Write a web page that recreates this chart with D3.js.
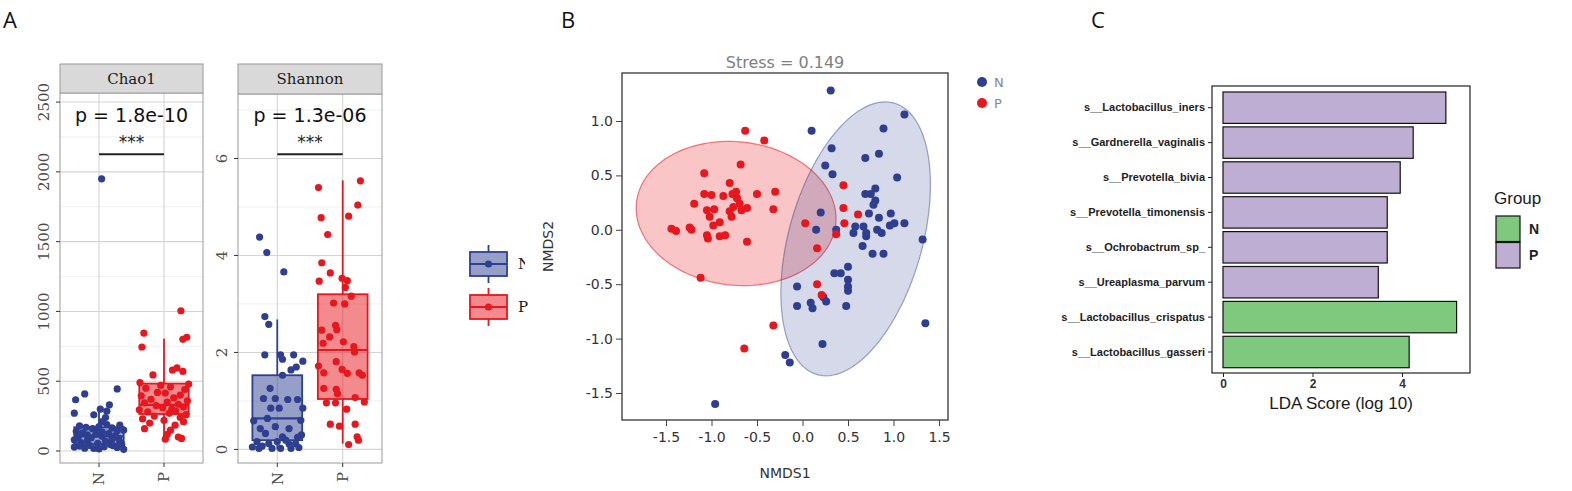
<!DOCTYPE html>
<html>
<head>
<meta charset="utf-8">
<script src="https://cdn.jsdelivr.net/npm/d3@7"></script>
<style>
  body { margin: 0; background: #fff; }
  svg { display: block; }
</style>
</head>
<body>
<svg id="fig" width="1572" height="491"></svg>
<script>
// ---------------------------//
//            DATA            //
// ---------------------------//

var groups = ["N", "P"];

// alpha diversity points: [value, jitter as fraction of category step]
var chaoN = [[1950,0.04],[445,0.28],[409,-0.22],[367,-0.36],[271,-0.38],[331,0.16],[300,0.02],[259,-0.08],
  [285,0.12],[240,0.10],[210,0.05],[180,-0.30],[170,-0.20],[160,-0.10],[175,0.00],[165,0.20],[185,0.32],
  [150,0.38],[140,-0.35],[130,-0.25],[120,-0.05],[125,0.15],[110,0.25],[100,-0.32],[95,-0.12],[105,0.05],
  [90,0.30],[80,-0.38],[75,-0.18],[70,0.10],[85,0.20],[60,-0.28],[55,-0.02],[50,0.35],[45,0.18],[40,-0.15],
  [35,-0.30],[30,0.08],[25,0.28],[20,-0.22],[15,0.00],[12,0.38],[28,-0.38],[65,0.32],[115,-0.18],
  [135,0.05],[155,-0.05],[190,0.12],[145,0.28],[38,0.22],[18,-0.08]];
var chaoP = [[1005,0.26],[845,-0.31],[815,0.35],[800,0.29],[745,-0.34],[595,0.20],[580,0.13],[570,0.29],
  [545,-0.17],[490,-0.37],[480,0.38],[470,-0.05],[460,0.10],[450,-0.28],[440,0.32],[420,-0.10],[415,0.02],
  [400,0.25],[395,-0.35],[380,0.15],[370,-0.20],[360,0.36],[350,0.05],[345,-0.30],[335,0.22],[325,-0.12],
  [315,0.30],[310,-0.02],[300,0.12],[295,-0.38],[285,0.18],[280,-0.25],[270,0.08],[260,0.34],[250,-0.15],
  [240,0.25],[230,-0.33],[220,0.00],[210,0.30],[200,-0.22],[185,0.17],[160,-0.30],[150,0.10],[120,0.05],
  [100,0.22],[85,0.02],[90,0.27]];
var shanN = [[4.38,-0.27],[4.06,-0.16],[3.66,0.10],[2.74,-0.19],[2.58,-0.13],[1.95,-0.19],[1.95,0.05],
  [1.86,0.08],[1.95,0.25],[1.82,0.39],[1.70,0.29],[1.64,0.21],[1.53,0.08],[1.26,-0.11],[1.05,-0.21],
  [1.05,-0.03],[1.03,0.16],[1.03,0.31],[0.85,-0.10],[0.85,0.03],[0.85,0.39],[0.59,-0.36],[0.64,-0.15],
  [0.60,0.36],[0.43,-0.26],[0.47,-0.03],[0.43,0.18],[0.33,-0.18],[0.26,0.08],[0.25,0.31],[0.30,0.37],
  [0.16,-0.31],[0.12,-0.13],[0.16,0.00],[0.11,0.18],[0.12,0.28],[0.02,-0.28],[0.02,-0.08],[0.02,0.05],
  [0.02,0.21],[0.04,0.33],[0.07,-0.23],[0.19,0.13],[0.05,-0.38]];
var shanP = [[5.40,-0.37],[5.54,0.27],[5.04,0.23],[4.78,-0.33],[4.81,0.09],[4.43,-0.23],[3.85,-0.32],
  [3.64,-0.19],[3.47,-0.36],[3.53,-0.01],[3.48,0.07],[3.34,0.04],[3.16,0.13],[3.02,-0.14],[3.00,0.03],
  [2.46,-0.32],[2.56,-0.11],[2.47,-0.09],[2.32,-0.20],[2.19,-0.30],[2.22,0.01],[2.12,0.17],[2.01,0.18],
  [1.72,-0.37],[1.58,-0.29],[1.81,-0.10],[1.65,-0.01],[1.57,0.07],[1.58,0.25],[1.53,0.30],[1.26,-0.29],
  [1.24,-0.10],[1.15,-0.08],[0.96,-0.25],[0.96,-0.11],[1.07,0.19],[0.98,0.33],[0.83,0.06],[0.52,-0.19],
  [0.48,-0.05],[0.52,0.19],[0.26,0.22],[0.19,0.24],[0.10,0.09]];

// box stats: [lower whisker, q1, median, q3, upper whisker]
var chaoBoxN = [10, 50, 105, 170, 315];
var chaoBoxP = [80, 265, 330, 483, 805];
var shanBoxN = [0, 0.19, 0.64, 1.53, 2.68];
var shanBoxP = [0.12, 1.04, 2.05, 3.20, 5.55];

var chaoTicks = [0, 500, 1000, 1500, 2000, 2500];
var shanTicks = [0, 2, 4, 6];
var pLabels = ["p = 1.8e-10", "p = 1.3e-06"];
var sigBarY = [2127, 6.09];

// NMDS coordinates [NMDS1, NMDS2]
var nmdsN = [[0.31,1.28],[0.10,0.91],[0.32,0.75],[1.12,1.06],[0.89,0.93],[0.69,0.66],[0.84,0.70],
  [0.25,0.59],[0.33,0.51],[1.04,0.48],[0.80,0.38],[0.69,0.33],[0.75,0.33],[0.80,0.27],[0.78,0.23],
  [0.20,0.16],[0.73,0.15],[0.84,0.11],[0.97,0.15],[1.12,0.06],[1.01,0.06],[0.96,0.04],[0.58,0.03],
  [0.67,0.03],[0.15,0.00],[0.37,0.00],[0.56,-0.03],[0.70,-0.03],[0.70,-0.06],[0.82,0.00],[0.87,-0.03],
  [0.66,-0.15],[0.77,-0.22],[0.89,-0.22],[1.32,-0.09],[0.50,-0.34],[0.35,-0.40],[0.42,-0.40],[0.50,-0.46],
  [0.50,-0.52],[0.50,-0.56],[-0.06,-0.52],[-0.06,-0.70],[0.09,-0.67],[0.11,-0.72],[0.23,-0.62],
  [0.26,-0.66],[0.48,-0.70],[1.35,-0.86],[0.22,-1.05],[-0.19,-1.15],[-0.14,-1.22],[-0.96,-1.60]];
var nmdsP = [[-0.63,0.91],[-0.42,0.82],[-0.68,0.60],[-1.08,0.52],[-0.80,0.43],[-1.08,0.33],[-1.00,0.32],
  [-0.87,0.31],[-0.77,0.33],[-0.50,0.33],[-0.30,0.35],[-1.19,0.24],[-0.72,0.29],[-0.69,0.24],[-0.76,0.21],
  [-0.61,0.20],[-0.32,0.19],[-1.05,0.18],[-0.97,0.19],[-1.02,0.12],[-0.78,0.12],[-0.91,0.07],[-0.98,0.04],
  [-1.44,0.01],[-1.39,-0.01],[-1.24,0.02],[-1.22,0.00],[-1.05,-0.05],[-1.04,-0.08],[-0.91,-0.06],
  [-0.85,-0.05],[-0.61,-0.11],[-1.12,-0.44],[-0.32,-0.88],[-0.64,-1.09],[0.03,0.06],[0.16,-0.17],
  [0.37,-0.04],[0.45,0.41],[0.45,0.20],[0.46,0.06],[0.61,0.14],[0.16,-0.50],[0.21,-0.60],[-0.73,0.35],
  [-0.67,0.18],[-0.80,0.17]];
// confidence ellipses: centre, semi-axes, rotation (degrees)
var ellipseN = {cx: 0.584, cy: -0.083, a: 1.32, b: 0.72, angle: 69};
var ellipseP = {cx: -0.73, cy: 0.15, a: 1.10, b: 0.66, angle: -4};
var nmdsTicks = [-1.5, -1.0, -0.5, 0.0, 0.5, 1.0, 1.5];
var stressLabel = "Stress = 0.149";

// LEfSe
var ldaTaxa = ["s__Lactobacillus_iners", "s__Gardnerella_vaginalis", "s__Prevotella_bivia",
  "s__Prevotella_timonensis", "s__Ochrobactrum_sp_", "s__Ureaplasma_parvum",
  "s__Lactobacillus_crispatus", "s__Lactobacillus_gasseri"];
var ldaScores = [4.98, 4.25, 3.96, 3.67, 3.67, 3.47, 5.22, 4.16];
var ldaGroup = ["P", "P", "P", "P", "P", "P", "N", "N"];
var ldaTicks = [0, 2, 4];

// ---------------------------//
//           SETUP            //
// ---------------------------//

var svg = d3.select("#fig");
var BLUE = "#2e3f91", RED = "#e8161d";
var colour = d3.scaleOrdinal().domain(groups).range([BLUE, RED]);
var SERIF = "DejaVu Serif", SANS = "DejaVu Sans", ARIAL = "Liberation Sans";
var fmt1 = function(d) { return d.toFixed(1); };

// panel letters
[["A", 10], ["C", 1098]].forEach(function(d) {
  svg.append("text").attr("x", d[1]).attr("y", 28).attr("text-anchor", "middle")
    .style("font-family", "Open Sans").style("font-size", "22px").style("fill", "#111").text(d[0]);
});

// ---------------------------//
//     PANEL A : ALPHA        //
// ---------------------------//

function alphaPanel(cfg) {
  var g = svg.append("g");
  var x = d3.scalePoint().domain(groups).range([cfg.left, cfg.right]).padding(0.6);
  var y = d3.scaleLinear().domain(cfg.domain).range([cfg.bottom, cfg.top]);
  var step = x.step(), bw = step * 0.76;

  g.append("rect").attr("x", cfg.left).attr("y", cfg.top)
    .attr("width", cfg.right - cfg.left).attr("height", cfg.bottom - cfg.top).attr("fill", "#fff");

  // minor grid
  var half = (cfg.ticks[1] - cfg.ticks[0]) / 2;
  var minor = cfg.ticks.map(function(t) { return t + half; })
    .filter(function(t) { return t < cfg.domain[1]; });
  g.selectAll(".minor").data(minor).enter().append("line")
    .attr("x1", cfg.left).attr("x2", cfg.right)
    .attr("y1", function(d) { return y(d); }).attr("y2", function(d) { return y(d); })
    .attr("stroke", "#ececec").attr("stroke-width", 0.8);
  g.selectAll(".major").data(cfg.ticks).enter().append("line")
    .attr("x1", cfg.left).attr("x2", cfg.right)
    .attr("y1", function(d) { return y(d); }).attr("y2", function(d) { return y(d); })
    .attr("stroke", "#d4d4d4").attr("stroke-width", 1.1);
  g.selectAll(".vmajor").data(groups).enter().append("line")
    .attr("x1", function(d) { return x(d); }).attr("x2", function(d) { return x(d); })
    .attr("y1", cfg.top).attr("y2", cfg.bottom)
    .attr("stroke", "#d4d4d4").attr("stroke-width", 1.1);

  // boxes
  cfg.boxes.forEach(function(b, i) {
    var cx = x(groups[i]), c = colour(groups[i]);
    g.append("line").attr("x1", cx).attr("x2", cx).attr("y1", y(b[3])).attr("y2", y(b[4]))
      .attr("stroke", c).attr("stroke-width", 1.8);
    g.append("line").attr("x1", cx).attr("x2", cx).attr("y1", y(b[0])).attr("y2", y(b[1]))
      .attr("stroke", c).attr("stroke-width", 1.8);
    g.append("rect").attr("x", cx - bw / 2).attr("width", bw)
      .attr("y", y(b[3])).attr("height", y(b[1]) - y(b[3]))
      .attr("fill", c).attr("fill-opacity", 0.5).attr("stroke", c).attr("stroke-width", 1.8);
    g.append("line").attr("x1", cx - bw / 2).attr("x2", cx + bw / 2)
      .attr("y1", y(b[2])).attr("y2", y(b[2])).attr("stroke", c).attr("stroke-width", 2.2);
  });

  // jittered points
  cfg.points.forEach(function(pts, i) {
    g.append("g").selectAll("circle").data(pts).enter().append("circle")
      .attr("cx", function(d) { return x(groups[i]) + d[1] * step; })
      .attr("cy", function(d) { return y(d[0]); })
      .attr("r", 3.6)
      .attr("fill", colour(groups[i]));
  });

  // border
  g.append("rect").attr("x", cfg.left).attr("y", cfg.top)
    .attr("width", cfg.right - cfg.left).attr("height", cfg.bottom - cfg.top)
    .attr("fill", "none").attr("stroke", "#9a9a9a").attr("stroke-width", 1);

  // strip
  g.append("rect").attr("x", cfg.left).attr("y", 64)
    .attr("width", cfg.right - cfg.left).attr("height", cfg.top - 64)
    .attr("fill", "#d9d9d9").attr("stroke", "#9a9a9a").attr("stroke-width", 1);
  g.append("text").attr("x", (cfg.left + cfg.right) / 2).attr("y", (64 + cfg.top) / 2)
    .attr("dy", "0.35em").attr("text-anchor", "middle")
    .style("font-family", SERIF).style("font-size", "15px").style("fill", "#1a1a1a").text(cfg.title);

  // significance
  var by = y(cfg.sig);
  g.append("line").attr("x1", x("N")).attr("x2", x("P")).attr("y1", by).attr("y2", by)
    .attr("stroke", "#222").attr("stroke-width", 2);
  g.append("text").attr("x", (x("N") + x("P")) / 2).attr("y", by - 6)
    .attr("text-anchor", "middle").style("font-family", SANS).style("font-size", "17px")
    .style("fill", "#222").text("***");
  g.append("text").attr("x", (cfg.left + cfg.right) / 2).attr("y", by - 32)
    .attr("text-anchor", "middle").style("font-family", SANS).style("font-size", "19px")
    .style("fill", "#111").text(cfg.pLabel);

  // y axis
  g.selectAll(".yt").data(cfg.ticks).enter().append("line")
    .attr("x1", cfg.left - 4).attr("x2", cfg.left)
    .attr("y1", function(d) { return y(d); }).attr("y2", function(d) { return y(d); })
    .attr("stroke", "#333");
  g.selectAll(".yl").data(cfg.ticks).enter().append("text")
    .attr("transform", function(d) { return "translate(" + (cfg.left - 16) + "," + y(d) + ") rotate(-90)"; })
    .attr("dy", "0.35em").attr("text-anchor", "middle")
    .style("font-family", SERIF).style("font-size", "15px").style("fill", "#4d4d4d")
    .text(function(d) { return d; });

  // x axis
  g.selectAll(".xt").data(groups).enter().append("line")
    .attr("x1", function(d) { return x(d); }).attr("x2", function(d) { return x(d); })
    .attr("y1", cfg.bottom).attr("y2", cfg.bottom + 4).attr("stroke", "#333");
  g.selectAll(".xl").data(groups).enter().append("text")
    .attr("transform", function(d) { return "translate(" + x(d) + "," + (cfg.bottom + 9) + ") rotate(-90)"; })
    .attr("dy", "0.35em").attr("text-anchor", "end")
    .style("font-family", SERIF).style("font-size", "15px").style("fill", "#4d4d4d")
    .text(function(d) { return d; });
}

alphaPanel({title: "Chao1", left: 60, right: 203, top: 93, bottom: 463, domain: [-86, 2565],
  ticks: chaoTicks, boxes: [chaoBoxN, chaoBoxP], points: [chaoN, chaoP],
  sig: sigBarY[0], pLabel: pLabels[0]});
alphaPanel({title: "Shannon", left: 238, right: 382, top: 94, bottom: 463, domain: [-0.28, 7.33],
  ticks: shanTicks, boxes: [shanBoxN, shanBoxP], points: [shanN, shanP],
  sig: sigBarY[1], pLabel: pLabels[1]});

// legend for A
var legA = svg.append("g");
groups.forEach(function(gr, i) {
  var c = colour(gr), top = 252 + i * 43, w = 37, h = 24, lx = 470;
  legA.append("line").attr("x1", lx + w / 2).attr("x2", lx + w / 2).attr("y1", top - 7).attr("y2", top + h + 7)
    .attr("stroke", c).attr("stroke-width", 1.8);
  legA.append("rect").attr("x", lx).attr("y", top).attr("width", w).attr("height", h)
    .attr("fill", "#fff");
  legA.append("rect").attr("x", lx).attr("y", top).attr("width", w).attr("height", h)
    .attr("fill", c).attr("fill-opacity", 0.5).attr("stroke", c).attr("stroke-width", 1.8);
  legA.append("line").attr("x1", lx).attr("x2", lx + w).attr("y1", top + h / 2).attr("y2", top + h / 2)
    .attr("stroke", c).attr("stroke-width", 1.8);
  legA.append("circle").attr("cx", lx + w / 2).attr("cy", top + h / 2).attr("r", 3.6).attr("fill", c);
  legA.append("text").attr("x", 518).attr("y", top + h / 2).attr("dy", "0.35em")
    .style("font-family", SERIF).style("font-size", "15px").style("fill", "#1a1a1a").text(gr);
});

// ---------------------------//
//      PANEL B : NMDS        //
// ---------------------------//

var gB = svg.append("g");
// panel B image edge hides part of the first legend label of A
gB.append("rect").attr("x", 525).attr("y", 240).attr("width", 40).attr("height", 45).attr("fill", "#fff");
gB.append("text").attr("x", 568).attr("y", 28).attr("text-anchor", "middle")
  .style("font-family", "Open Sans").style("font-size", "22px").style("fill", "#111").text("B");

var bx = d3.scaleLinear().domain([-1.5, 1.5]).range([666, 939]);
var by = d3.scaleLinear().domain([-1.5, 1.0]).range([393, 121]);
var B = {left: 622, right: 948, top: 73, bottom: 420};

function ellipsePath(e) {
  var th = e.angle * Math.PI / 180;
  var pts = d3.range(0, 121).map(function(k) {
    var s = k / 120 * 2 * Math.PI, u = e.a * Math.cos(s), v = e.b * Math.sin(s);
    return [bx(e.cx + u * Math.cos(th) - v * Math.sin(th)), by(e.cy + u * Math.sin(th) + v * Math.cos(th))];
  });
  return d3.line()(pts) + "Z";
}

gB.append("path").attr("d", ellipsePath(ellipseP))
  .attr("fill", RED).attr("fill-opacity", 0.25).attr("stroke", RED).attr("stroke-opacity", 0.55).attr("stroke-width", 1.2);
gB.append("path").attr("d", ellipsePath(ellipseN))
  .attr("fill", BLUE).attr("fill-opacity", 0.2).attr("stroke", BLUE).attr("stroke-opacity", 0.45).attr("stroke-width", 1.2);

[[nmdsN, "N"], [nmdsP, "P"]].forEach(function(s) {
  gB.append("g").selectAll("circle").data(s[0]).enter().append("circle")
    .attr("cx", function(d) { return bx(d[0]); })
    .attr("cy", function(d) { return by(d[1]); })
    .attr("r", 4)
    .attr("fill", colour(s[1]));
});

gB.append("rect").attr("x", B.left).attr("y", B.top).attr("width", B.right - B.left)
  .attr("height", B.bottom - B.top).attr("fill", "none").attr("stroke", "#444").attr("stroke-width", 1.4);

gB.append("g").attr("transform", "translate(0," + B.bottom + ")")
  .call(d3.axisBottom(bx).tickValues(nmdsTicks).tickFormat(fmt1).tickSizeOuter(0).tickSize(6))
  .call(function(a) {
    a.select(".domain").remove();
    a.selectAll("line").attr("stroke", "#444");
    a.selectAll("text").attr("dy", "0.9em").style("font-family", SANS).style("font-size", "14px").style("fill", "#333");
  });
gB.append("g").attr("transform", "translate(" + B.left + ",0)")
  .call(d3.axisLeft(by).tickValues(nmdsTicks.filter(function(t) { return t <= 1.0; }))
    .tickFormat(fmt1).tickSizeOuter(0).tickSize(6))
  .call(function(a) {
    a.select(".domain").remove();
    a.selectAll("line").attr("stroke", "#444");
    a.selectAll("text").style("font-family", SANS).style("font-size", "14px").style("fill", "#333");
  });

gB.append("text").attr("x", (B.left + B.right) / 2).attr("y", 68).attr("text-anchor", "middle")
  .style("font-family", SANS).style("font-size", "16px").style("fill", "#808080").text(stressLabel);
gB.append("text").attr("x", (B.left + B.right) / 2).attr("y", 478).attr("text-anchor", "middle")
  .style("font-family", SANS).style("font-size", "14px").style("fill", "#333").text("NMDS1");
gB.append("text").attr("transform", "translate(553," + (B.top + B.bottom) / 2 + ") rotate(-90)")
  .attr("text-anchor", "middle")
  .style("font-family", SANS).style("font-size", "14px").style("fill", "#333").text("NMDS2");

groups.forEach(function(gr, i) {
  gB.append("circle").attr("cx", 982).attr("cy", 82 + i * 21).attr("r", 5).attr("fill", colour(gr));
  gB.append("text").attr("x", 994).attr("y", 82 + i * 21).attr("dy", "0.35em")
    .style("font-family", SANS).style("font-size", "13px").style("fill", "#888").text(gr);
});

// ---------------------------//
//      PANEL C : LEfSe       //
// ---------------------------//

var gC = svg.append("g");
var C = {left: 1212, right: 1470, top: 86, bottom: 373};
var cx = d3.scaleLinear().domain([0, 4]).range([1223, 1402]);
var cy = d3.scaleBand().domain(ldaTaxa).range([88.5, 371.2]).padding(0.1);
var ldaColour = d3.scaleOrdinal().domain(groups).range(["#7fc97f", "#beaed4"]);

gC.selectAll(".bar").data(ldaTaxa).enter().append("rect")
  .attr("x", cx(0))
  .attr("y", function(d) { return cy(d); })
  .attr("width", function(d, i) { return cx(ldaScores[i]) - cx(0); })
  .attr("height", cy.bandwidth())
  .attr("fill", function(d, i) { return ldaColour(ldaGroup[i]); })
  .attr("stroke", "#111").attr("stroke-width", 1.2);

gC.append("rect").attr("x", C.left).attr("y", C.top).attr("width", C.right - C.left)
  .attr("height", C.bottom - C.top).attr("fill", "none").attr("stroke", "#222").attr("stroke-width", 1.2);

gC.append("g").attr("transform", "translate(" + C.left + ",0)")
  .call(d3.axisLeft(cy).tickSize(4).tickPadding(3))
  .call(function(a) {
    a.select(".domain").remove();
    a.selectAll("line").attr("stroke", "#222");
    a.selectAll("text").style("font-family", ARIAL).style("font-size", "11px")
      .style("font-weight", "bold").style("fill", "#222");
  });
gC.append("g").attr("transform", "translate(0," + C.bottom + ")")
  .call(d3.axisBottom(cx).tickValues(ldaTicks).tickFormat(d3.format("d")).tickSize(4).tickPadding(2))
  .call(function(a) {
    a.select(".domain").remove();
    a.selectAll("line").attr("stroke", "#222");
    a.selectAll("text").style("font-family", ARIAL).style("font-size", "12px")
      .style("font-weight", "bold").style("fill", "#333");
  });
gC.append("text").attr("x", (C.left + C.right) / 2).attr("y", 409).attr("text-anchor", "middle")
  .style("font-family", ARIAL).style("font-size", "17px").style("fill", "#1a1a1a").text("LDA Score (log 10)");

gC.append("text").attr("x", 1494).attr("y", 204)
  .style("font-family", ARIAL).style("font-size", "17px").style("fill", "#1a1a1a").text("Group");
groups.forEach(function(gr, i) {
  gC.append("rect").attr("x", 1496).attr("y", 216 + i * 26).attr("width", 24).attr("height", 26)
    .attr("fill", ldaColour(gr)).attr("stroke", "#111").attr("stroke-width", 1.2);
  gC.append("text").attr("x", 1529).attr("y", 229 + i * 26).attr("dy", "0.35em")
    .style("font-family", ARIAL).style("font-size", "14px").style("font-weight", "bold")
    .style("fill", "#222").text(gr);
});
gC.append("line").attr("x1", 1496).attr("x2", 1520).attr("y1", 242).attr("y2", 242)
  .attr("stroke", "#111").attr("stroke-width", 2.2);
</script>
</body>
</html>
